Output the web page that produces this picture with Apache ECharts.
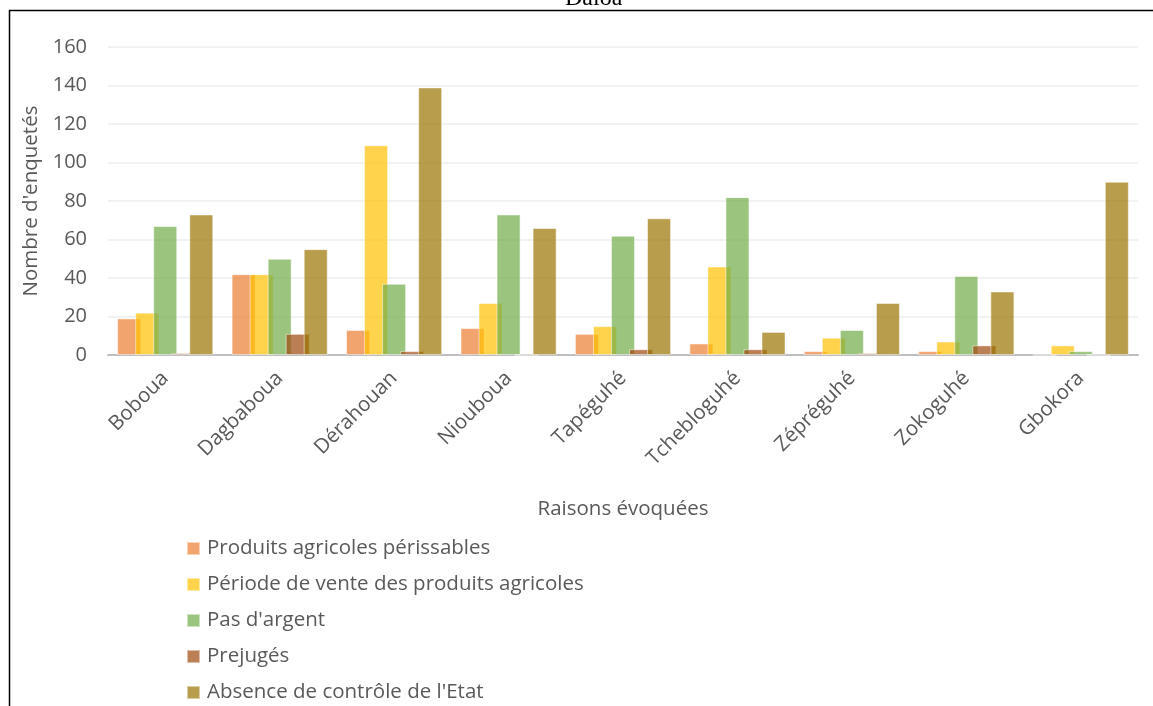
<!DOCTYPE html>
<html>
<head>
<meta charset="utf-8">
<script src="https://cdn.jsdelivr.net/npm/echarts@6/dist/echarts.min.js"></script>
<style>
  html, body { margin: 0; padding: 0; background: #fff; }
  #chart { width: 1153px; height: 706px; }
</style>
</head>
<body>
<div id="chart"></div>
<script>
// Villages surveyed around Daloa
const villages = ['Boboua', 'Dagbaboua', 'Dérahouan', 'Niouboua', 'Tapéguhé', 'Tchebloguhé', 'Zépréguhé', 'Zokoguhé', 'Gbokora'];

// Number of respondents per reason given
const produitsPerissables = [19, 42, 13, 14, 11, 6, 2, 2, 0];
const periodeVente       = [22, 42, 109, 27, 15, 46, 9, 7, 5];
const pasArgent          = [67, 50, 37, 73, 62, 82, 13, 41, 2];
const prejuges           = [1, 11, 2, 0, 3, 3, 1, 5, 0];
const absenceControle    = [73, 55, 139, 66, 71, 12, 27, 33, 90];

const seriesNames = [
  'Produits agricoles périssables',
  'Période de vente des produits agricoles',
  "Pas d'argent",
  'Prejugés',
  "Absence de contrôle de l'Etat"
];
const seriesData = [produitsPerissables, periodeVente, pasArgent, prejuges, absenceControle];
const colors = [
  'rgba(237,125,49,0.7)',
  'rgba(255,192,0,0.7)',
  'rgba(112,173,71,0.7)',
  'rgba(158,72,14,0.7)',
  'rgba(153,115,0,0.7)'
];

const font = '"Open Sans", "Noto Sans", sans-serif';
const textColor = '#595959';

const chart = echarts.init(document.getElementById('chart'), null, { renderer: 'canvas' });

chart.setOption({
  animation: false,
  title: {
    text: 'Daloa',
    left: 560,
    top: -18,
    textStyle: { fontFamily: '"Liberation Serif", "DejaVu Serif", serif', fontSize: 24, fontWeight: 'normal', color: '#000' }
  },
  graphic: [{
    type: 'rect',
    shape: { x: 9.5, y: 10.5, width: 1160, height: 720 },
    style: { fill: 'none', stroke: '#000', lineWidth: 1.5 },
    silent: true
  }],
  color: colors,
  grid: { left: 108, right: 15, top: 47, bottom: 351, containLabel: false },
  legend: {
    orient: 'vertical',
    left: 186,
    top: 538,
    height: 180,
    padding: 0,
    itemWidth: 13,
    itemHeight: 13,
    itemGap: 15,
    icon: 'rect',
    textStyle: { fontFamily: font, fontSize: 20.5, color: textColor, padding: [0, 0, 0, 2] },
    data: seriesNames
  },
  xAxis: {
    type: 'category',
    data: villages,
    name: 'Raisons évoquées',
    nameLocation: 'middle',
    nameGap: 144,
    nameTextStyle: { fontFamily: font, fontSize: 20.5, color: textColor },
    axisLine: { lineStyle: { color: '#BFBFBF', width: 2 } },
    axisTick: { show: false },
    axisLabel: { rotate: 45, fontFamily: font, fontSize: 20.5, color: textColor, margin: 20 }
  },
  yAxis: {
    type: 'value',
    min: 0,
    max: 160,
    interval: 20,
    name: "Nombre d'enquetés",
    nameLocation: 'middle',
    nameGap: 64,
    nameTextStyle: { fontFamily: font, fontSize: 20.5, color: textColor },
    axisLine: { show: false },
    axisTick: { show: false },
    axisLabel: { fontFamily: font, fontSize: 20, color: textColor, margin: 21 },
    splitLine: { lineStyle: { color: '#EEEEEE', width: 1.5 } }
  },
  series: seriesNames.map((name, i) => ({
    name: name,
    type: 'bar',
    data: seriesData[i],
    barGap: '-25%',
    barCategoryGap: '16%',
    itemStyle: { color: colors[i], borderColor: 'rgba(255,255,255,0.5)', borderWidth: 1 }
  }))
});
</script>
</body>
</html>
